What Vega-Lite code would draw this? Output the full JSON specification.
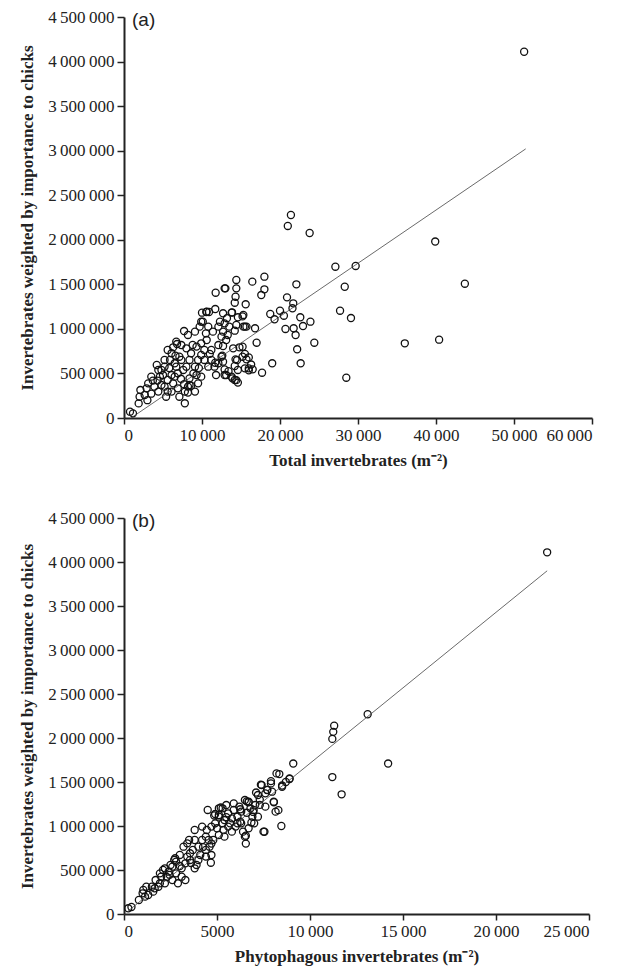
{
"$schema": "https://vega.github.io/schema/vega-lite/v6.json",
"padding": {"left": 18, "top": 8, "right": 5, "bottom": 5},
"background": "white",
"config": {
  "view": {"stroke": null},
  "axis": {"domainColor": "#222", "domainWidth": 2, "tickColor": "#222", "tickWidth": 1.5, "labelFont": "Liberation Serif", "labelFontSize": 17, "labelColor": "#222", "titleFont": "Liberation Serif", "titleFontSize": 17, "titleFontWeight": "bold", "titleColor": "#222", "grid": false, "labelPadding": 3},
  "axisX": {"tickSize": 6, "titlePadding": 9},
  "axisY": {"tickSize": 7, "titlePadding": 11}
},
"datasets": {
  "a": [
    {"x":51300,"y":4110000},{"x":39900,"y":1980000},{"x":43700,"y":1507000},{"x":40400,"y":879000},{"x":36000,"y":838000},{"x":28500,"y":452000},{"x":27100,"y":1698000},{"x":29700,"y":1706000},{"x":28300,"y":1473000},{"x":27700,"y":1204000},{"x":29100,"y":1122000},{"x":21400,"y":2278000},{"x":21000,"y":2155000},{"x":23800,"y":2076000},{"x":22100,"y":1500000},{"x":20900,"y":1354000},{"x":21600,"y":1231000},{"x":21700,"y":1287000},
    {"x":18750,"y":1167000},{"x":20000,"y":1204000},{"x":20500,"y":1148000},{"x":19300,"y":1108000},{"x":20700,"y":999000},{"x":21750,"y":1007000},{"x":22000,"y":931000},{"x":22600,"y":1130000},{"x":22950,"y":1032000},{"x":23900,"y":1081000},{"x":24400,"y":845000},{"x":22200,"y":771000},{"x":22650,"y":614000},{"x":19000,"y":614000},{"x":17700,"y":508000},{"x":18000,"y":1586000},{"x":16450,"y":1530000},{"x":18000,"y":1444000},{"x":17600,"y":1380000},{"x":15600,"y":1276000},{"x":14400,"y":1549000},{"x":14400,"y":1455000},{"x":14300,"y":1361000},{"x":14200,"y":1294000},{"x":13000,"y":1455000},{"x":11750,"y":1406000},{"x":11700,"y":1223000},{"x":10550,"y":1190000},{"x":10000,"y":1182000},{"x":9900,"y":1081000},{"x":7700,"y":976000},{"x":16800,"y":1007000},{"x":17000,"y":845000},
    {"x":12700,"y":1175000},{"x":13800,"y":1182000},{"x":14600,"y":1130000},{"x":15300,"y":1156000},{"x":12900,"y":1062000},{"x":13500,"y":1025000},{"x":14400,"y":1044000},{"x":15300,"y":1025000},{"x":15700,"y":1025000},{"x":12700,"y":969000},{"x":13300,"y":932000},{"x":14200,"y":980000},{"x":13100,"y":875000},{"x":12700,"y":808000},{"x":14000,"y":782000},{"x":14800,"y":793000},{"x":15200,"y":688000},{"x":14300,"y":658000},{"x":15700,"y":658000},{"x":16000,"y":557000},{"x":14200,"y":584000},{"x":14600,"y":539000},{"x":15500,"y":557000},{"x":16500,"y":546000},{"x":13100,"y":482000},{"x":13800,"y":464000},{"x":14200,"y":427000},{"x":14600,"y":397000},{"x":12700,"y":632000},{"x":16300,"y":600000},
    {"x":770,"y":71000},{"x":1150,"y":52000},{"x":1880,"y":164000},{"x":2000,"y":239000},{"x":2650,"y":258000},{"x":2100,"y":314000},{"x":3500,"y":273000},{"x":3900,"y":352000},{"x":3700,"y":419000},{"x":4600,"y":464000},{"x":4800,"y":539000},{"x":5200,"y":576000},{"x":5000,"y":482000},{"x":5600,"y":296000},{"x":5400,"y":239000},{"x":6300,"y":389000},{"x":6500,"y":464000},{"x":6900,"y":501000},{"x":6700,"y":576000},{"x":7350,"y":651000},{"x":7800,"y":165000},{"x":7100,"y":239000},{"x":7800,"y":296000},{"x":8200,"y":352000},{"x":8400,"y":445000},{"x":8900,"y":501000},{"x":9100,"y":576000},{"x":9500,"y":651000},{"x":9900,"y":707000},{"x":8600,"y":726000},{"x":8000,"y":782000},{"x":7350,"y":819000},{"x":6700,"y":857000},{"x":5600,"y":763000},{"x":6300,"y":793000},{"x":6800,"y":830000},{"x":8200,"y":932000},{"x":9100,"y":969000},{"x":9700,"y":1025000},{"x":10600,"y":1193000},{"x":12900,"y":1455000},{"x":10100,"y":1081000},{"x":10800,"y":1025000},{"x":11400,"y":969000},{"x":12100,"y":1025000},{"x":12500,"y":913000},{"x":12100,"y":819000},{"x":11200,"y":763000},{"x":10300,"y":651000},{"x":10800,"y":576000},{"x":11600,"y":576000},{"x":12500,"y":688000},{"x":12900,"y":482000},{"x":11800,"y":482000},{"x":9900,"y":464000},{"x":9500,"y":389000},{"x":9100,"y":296000},{"x":5900,"y":651000},{"x":5200,"y":651000},{"x":4400,"y":539000},{"x":4200,"y":595000},{"x":3500,"y":464000},{"x":3100,"y":389000},{"x":2900,"y":333000},{"x":4800,"y":370000},{"x":5600,"y":427000},{"x":6100,"y":482000},{"x":7600,"y":539000},{"x":8000,"y":576000},{"x":8400,"y":651000},{"x":6500,"y":614000},{"x":7100,"y":688000},{"x":6100,"y":726000},{"x":9300,"y":801000},{"x":9900,"y":838000},{"x":10600,"y":875000},{"x":10300,"y":763000},{"x":5200,"y":352000},{"x":4400,"y":296000},{"x":6900,"y":333000},{"x":6100,"y":296000},{"x":8400,"y":370000},{"x":9300,"y":482000},{"x":11200,"y":651000},{"x":12100,"y":614000},{"x":8600,"y":362000},{"x":8200,"y":285000},{"x":12300,"y":1080000},{"x":13200,"y":1120000},{"x":13850,"y":1186000},{"x":15200,"y":1140000},{"x":15500,"y":1025000},{"x":15200,"y":800000},{"x":15500,"y":720000},{"x":16000,"y":680000},{"x":14500,"y":650000},{"x":16000,"y":535000},{"x":12900,"y":545000},{"x":13400,"y":525000},{"x":13900,"y":445000},{"x":14400,"y":425000},{"x":11700,"y":620000},{"x":12600,"y":700000},{"x":10900,"y":1190000},
    {"x":3000,"y":200000},{"x":4300,"y":420000},{"x":5800,"y":560000},{"x":7300,"y":440000},{"x":6600,"y":700000},{"x":8800,"y":820000},{"x":10500,"y":950000},{"x":11000,"y":720000},{"x":9600,"y":560000},{"x":7700,"y":380000}
  ],
  "aLine": [{"x":900,"y":0},{"x":51500,"y":3020000}],
  "aLab": [{"label":"(a)"}],
  "b": [
    {"x":22750,"y":4110000},{"x":13100,"y":2270000},{"x":11300,"y":2140000},{"x":11250,"y":2070000},{"x":11200,"y":1990000},{"x":14200,"y":1710000},{"x":11200,"y":1556000},{"x":11700,"y":1360000},{"x":9100,"y":1710000},{"x":8900,"y":1534000},{"x":8350,"y":1590000},{"x":8500,"y":1460000},{"x":7900,"y":1510000},{"x":7360,"y":1470000},{"x":7700,"y":1410000},{"x":7100,"y":1380000},{"x":8060,"y":1270000},{"x":8300,"y":1180000},{"x":8460,"y":1000000},{"x":7300,"y":1240000},{"x":7600,"y":1220000},{"x":6950,"y":1160000},{"x":6600,"y":1280000},{"x":6700,"y":1270000},{"x":6250,"y":1190000},{"x":6850,"y":1040000},{"x":7550,"y":935000},{"x":6550,"y":890000},{"x":6550,"y":800000},{"x":5200,"y":1210000},{"x":4850,"y":1120000},{"x":4670,"y":583000},{"x":4700,"y":670000},
    {"x":230,"y":65000},{"x":400,"y":80000},{"x":800,"y":159000},{"x":1000,"y":235000},{"x":1130,"y":197000},{"x":1500,"y":310000},{"x":1700,"y":386000},{"x":1930,"y":462000},{"x":2100,"y":500000},{"x":2000,"y":424000},{"x":2400,"y":481000},{"x":2600,"y":538000},{"x":2800,"y":595000},{"x":2700,"y":614000},{"x":3100,"y":519000},{"x":3300,"y":576000},{"x":3400,"y":652000},{"x":3550,"y":690000},{"x":3700,"y":728000},{"x":3800,"y":841000},{"x":3400,"y":803000},{"x":4000,"y":765000},{"x":4200,"y":841000},{"x":4400,"y":879000},{"x":4450,"y":955000},{"x":4700,"y":993000},{"x":4550,"y":841000},{"x":4900,"y":1030000},{"x":5100,"y":1106000},{"x":5300,"y":1201000},{"x":5100,"y":1125000},{"x":5400,"y":1068000},{"x":5600,"y":1144000},{"x":5800,"y":1087000},{"x":5900,"y":1182000},{"x":6100,"y":1030000},{"x":6250,"y":1049000},{"x":6500,"y":1295000},{"x":6700,"y":1276000},{"x":6970,"y":1182000},{"x":7050,"y":1238000},{"x":7200,"y":1352000},{"x":7400,"y":1465000},{"x":7700,"y":1409000},{"x":7900,"y":1484000},{"x":8200,"y":1598000},{"x":8500,"y":1446000},{"x":8900,"y":1541000},{"x":6500,"y":879000},{"x":7000,"y":1030000},{"x":7500,"y":936000},{"x":8050,"y":1276000},{"x":8150,"y":1163000},{"x":7600,"y":1371000},{"x":7960,"y":1390000},
    {"x":5100,"y":1201000},{"x":4900,"y":1136000},{"x":4500,"y":1182000},{"x":4200,"y":993000},{"x":3800,"y":955000},{"x":3500,"y":841000},{"x":3200,"y":765000},{"x":3000,"y":671000},{"x":2750,"y":633000},{"x":2500,"y":557000},{"x":2200,"y":519000},{"x":3800,"y":519000},{"x":3900,"y":557000},{"x":3550,"y":614000},{"x":3100,"y":424000},{"x":2900,"y":349000},{"x":3300,"y":386000},{"x":2800,"y":462000},{"x":2600,"y":386000},{"x":2200,"y":349000},{"x":1850,"y":310000},{"x":1570,"y":254000},{"x":1300,"y":216000},{"x":4100,"y":671000},{"x":4400,"y":728000},{"x":4600,"y":765000},{"x":4800,"y":841000},{"x":5100,"y":898000},{"x":5350,"y":955000},{"x":5600,"y":993000},{"x":5800,"y":936000},{"x":6000,"y":993000},{"x":5400,"y":879000},{"x":5000,"y":974000},{"x":5300,"y":1030000},{"x":5700,"y":1030000},{"x":6100,"y":1106000},{"x":6300,"y":1163000},{"x":6200,"y":1220000},{"x":5900,"y":1257000},{"x":5500,"y":1238000},{"x":6800,"y":1201000},{"x":6900,"y":1106000},{"x":7200,"y":1106000},{"x":6700,"y":974000},{"x":6400,"y":936000},{"x":6300,"y":1030000},{"x":4400,"y":652000},{"x":4000,"y":614000},{"x":1930,"y":349000},{"x":1650,"y":292000},{"x":1040,"y":273000},{"x":1200,"y":310000},{"x":2300,"y":420000},{"x":2450,"y":445000},{"x":3000,"y":545000},{"x":3600,"y":580000},{"x":4250,"y":760000},{"x":4700,"y":800000},{"x":5500,"y":1100000},{"x":6600,"y":1150000},{"x":7300,"y":1300000},{"x":8700,"y":1500000}
  ],
  "bLine": [{"x":200,"y":30000},{"x":22750,"y":3900000}],
  "bLab": [{"label":"(b)"}]
},
"spacing": 41,
"vconcat": [
  {
    "width": 468, "height": 401,
    "layer": [
      {
        "data": {"name": "a"},
        "mark": {"type": "point", "shape": "circle", "filled": false, "stroke": "#111", "strokeWidth": 1.3, "size": 50, "opacity": 1},
        "encoding": {
          "x": {"field": "x", "type": "quantitative", "scale": {"domain": [0, 60000], "nice": false},
                "axis": {"title": "Total invertebrates (m\u207b\u00b2)", "values": [0,10000,20000,30000,40000,50000,60000], "labelExpr": "datum.value >= 10000 ? replace(format(datum.value, ','), regexp(',', 'g'), '\u2009') : format(datum.value, 'd')"}},
          "y": {"field": "y", "type": "quantitative", "scale": {"domain": [0, 4500000], "nice": false},
                "axis": {"title": "Invertebrates weighted by importance to chicks", "values": [0,500000,1000000,1500000,2000000,2500000,3000000,3500000,4000000,4500000], "labelExpr": "datum.value >= 10000 ? replace(format(datum.value, ','), regexp(',', 'g'), '\u2009') : format(datum.value, 'd')"}}
        }
      },
      {
        "data": {"name": "aLine"},
        "mark": {"type": "line", "color": "#444", "strokeWidth": 0.8},
        "encoding": {"x": {"field": "x", "type": "quantitative"}, "y": {"field": "y", "type": "quantitative"}}
      },
      {
        "data": {"name": "aLab"},
        "mark": {"type": "text", "font": "Liberation Sans", "fontSize": 19, "align": "left", "baseline": "middle", "dx": 8, "dy": 3, "color": "#222"},
        "encoding": {"x": {"datum": 0}, "y": {"datum": 4500000}, "text": {"field": "label"}}
      }
    ]
  },
  {
    "width": 465, "height": 396,
    "layer": [
      {
        "data": {"name": "b"},
        "mark": {"type": "point", "shape": "circle", "filled": false, "stroke": "#111", "strokeWidth": 1.3, "size": 50, "opacity": 1},
        "encoding": {
          "x": {"field": "x", "type": "quantitative", "scale": {"domain": [0, 25000], "nice": false},
                "axis": {"title": "Phytophagous invertebrates (m\u207b\u00b2)", "values": [0,5000,10000,15000,20000,25000], "labelExpr": "datum.value >= 10000 ? replace(format(datum.value, ','), regexp(',', 'g'), '\u2009') : format(datum.value, 'd')"}},
          "y": {"field": "y", "type": "quantitative", "scale": {"domain": [0, 4500000], "nice": false},
                "axis": {"title": "Invertebrates weighted by importance to chicks", "values": [0,500000,1000000,1500000,2000000,2500000,3000000,3500000,4000000,4500000], "labelExpr": "datum.value >= 10000 ? replace(format(datum.value, ','), regexp(',', 'g'), '\u2009') : format(datum.value, 'd')"}}
        }
      },
      {
        "data": {"name": "bLine"},
        "mark": {"type": "line", "color": "#444", "strokeWidth": 0.8},
        "encoding": {"x": {"field": "x", "type": "quantitative"}, "y": {"field": "y", "type": "quantitative"}}
      },
      {
        "data": {"name": "bLab"},
        "mark": {"type": "text", "font": "Liberation Sans", "fontSize": 19, "align": "left", "baseline": "middle", "dx": 8, "dy": 3, "color": "#222"},
        "encoding": {"x": {"datum": 0}, "y": {"datum": 4500000}, "text": {"field": "label"}}
      }
    ]
  }
]
}
